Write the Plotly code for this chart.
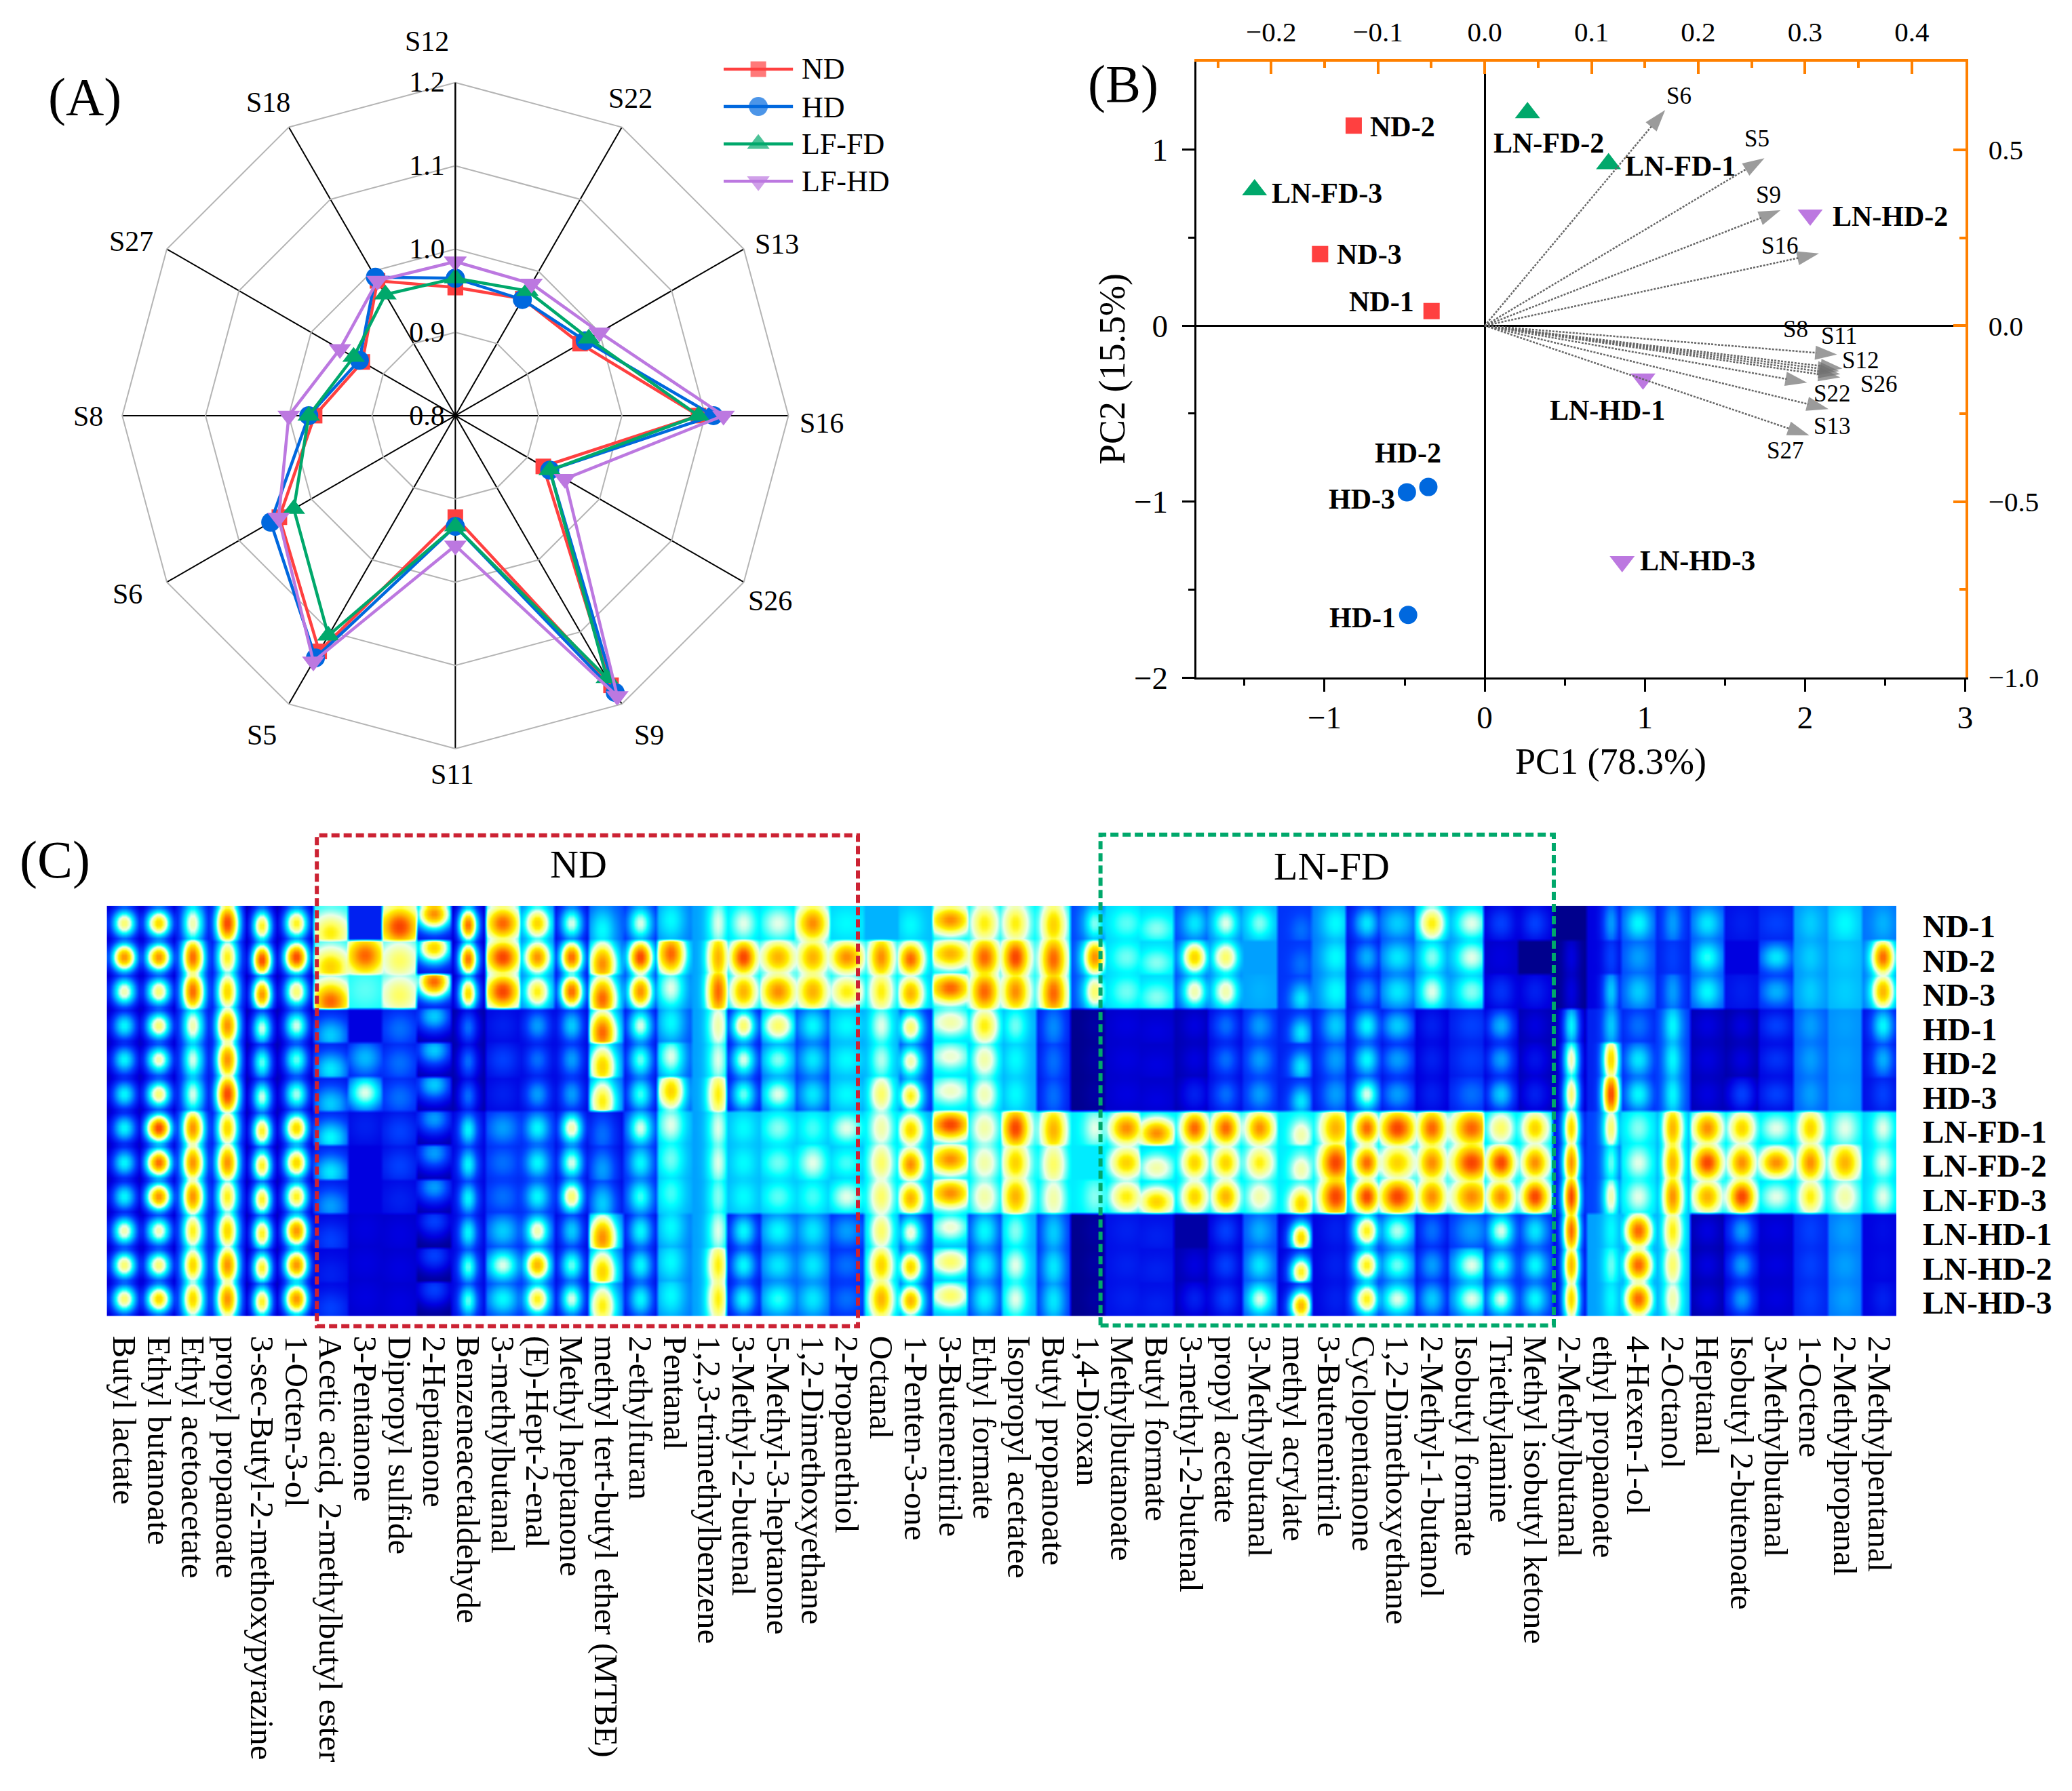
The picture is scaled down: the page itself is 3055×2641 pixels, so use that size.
import math
import plotly.graph_objects as go

FONT = "Liberation Serif"
W, H = 3055, 2641
def px(x): return x / W
def py(y): return 1 - y / H

# ---------- Panel A data ----------
spokes = ["S12","S22","S13","S16","S26","S9","S11","S5","S6","S8","S27","S18"]
radar_ND   = [.954,.962,.973,1.092,.922,1.174,.922,1.127,1.044,.969,.929,.987]
radar_HD   = [.965,.961,.980,1.110,.931,1.184,.933,1.136,1.056,.976,.933,.992]
radar_LFFD = [.965,.973,.985,1.092,.931,1.164,.933,1.105,1.024,.976,.941,.968]
radar_LFHD = [.985,.983,1.000,1.122,.952,1.189,.956,1.141,1.045,1.000,.960,.987]
spoke_label_px = [(632,62),(933,146),(1150,364),(1216,630),(1140,895),(961,1095),
                  (670,1153),(388,1095),(189,885),(131,620),(194,360),(397,152)]
legend_names = ["ND","HD","LF-FD","LF-HD"]
legend_rows_px = [103,160,215,270]

# ---------- Panel B data ----------
score_names = ["ND-1","ND-2","ND-3","HD-1","HD-2","HD-3","LN-FD-1","LN-FD-2","LN-FD-3","LN-HD-1","LN-HD-2","LN-HD-3"]
score_pc1 = [-.332,-.818,-1.028,-.478,-.352,-.486,.773,.267,-1.437,.988,2.032,.858]
score_pc2 = [.083,1.137,.407,-1.644,-.917,-.947,.92,1.21,.772,-.303,.629,-1.341]
score_label_x = [-.644,-.514,-.721,-.761,-.478,-.765,1.223,.401,-.984,.765,2.530,1.328]
score_label_y = [.134,1.131,.404,-1.659,-.724,-.985,.905,1.039,.751,-.481,.623,-1.335]
load_names = ["S6","S5","S9","S16","S8","S11","S12","S26","S22","S13","S27","S18"]
load_x = [.169,.262,.277,.313,.330,.335,.333,.333,.302,.322,.304,.332]
load_y = [.613,.476,.328,.205,-.082,-.122,-.138,-.147,-.162,-.237,-.312,-.129]
load_label_x = [.182,.255,.266,.276,.291,.332,.352,.369,.325,.325,.281]
load_label_y = [.653,.531,.372,.227,-.010,-.030,-.098,-.166,-.193,-.286,-.355]

# ---------- Panel C data ----------
samples = ["ND-1","ND-2","ND-3","HD-1","HD-2","HD-3","LN-FD-1","LN-FD-2","LN-FD-3","LN-HD-1","LN-HD-2","LN-HD-3"]
compounds = ["Butyl lactate","Ethyl butanoate","Ethyl acetoacetate","propyl propanoate","3-sec-Butyl-2-methoxypyrazine",
 "1-Octen-3-ol","Acetic acid, 2-methylbutyl ester","3-Pentanone","Dipropyl sulfide","2-Heptanone","Benzeneacetaldehyde",
 "3-methylbutanal","(E)-Hept-2-enal","Methyl heptanone","methyl tert-butyl ether (MTBE)","2-ethylfuran","Pentanal",
 "1,2,3-trimethylbenzene","3-Methyl-2-butenal","5-Methyl-3-heptanone","1,2-Dimethoxyethane","2-Propanethiol","Octanal",
 "1-Penten-3-one","3-Butenenitrile","Ethyl formate","Isopropyl acetatee","Butyl propanoate","1,4-Dioxan","Methylbutanoate",
 "Butyl formate","3-methyl-2-butenal","propyl acetate","3-Methylbutanal","methyl acrylate","3-Butenenitrile","Cyclopentanone",
 "1,2-Dimethoxyethane","2-Methyl-1-butanol","Isobutyl formate","Triethylamine","Methyl isobutyl ketone","2-Methylbutanal",
 "ethyl propanoate","4-Hexen-1-ol","2-Octanol","Heptanal","Isobutyl 2-butenoate","3-Methylbutanal","1-Octene",
 "2-Methylpropanal","2-Methylpentanal"]
# spot intensity read per compound (one value per sample, top to bottom)
spot_peak = [
 [6,8,5.5,4,4,4,4,4,4,5.5,6,6],[7,8,6,6,5.5,6,9,8.5,8,5.5,6,7],[5.5,8.5,8.5,5.5,5,5,8,8,8,6.5,7,7],
 [9,6.5,7,8,8,9,7,8,6.5,7,8,8],[6.5,9,8,5,4.5,5,6.5,6.5,6.5,6.5,6.5,6.5],[6.5,9,6,5,4.5,4.8,7,7,6.5,8,8,8],
 [6.5,7,8.5,3.5,3.8,3.5,4,3.8,3,2,1.5,2],[1.5,8.5,4.4,1,3.3,5,1.5,1,1,1,1,1],[9,6,6,2.5,2.5,2.5,2,2,1.5,1,1,1],
 [8,7,8.5,3.5,3.5,3.5,3,3,3,2,2,2],[8.5,8.5,7,2.5,2.5,2.5,4,4,4,4,4.5,4.5],[8.5,9,9,1.5,2,1.5,3,2.5,2.5,3.5,5,4],
 [7,8,6.5,3,2.5,3,4,4,4,5.5,7.5,6.5],[5,8.5,8.5,3.5,3,3,5.5,5,6,3.5,4.5,5],[4,8,8.5,8.5,7,6.5,2.5,3,3.5,8,7,6.5],
 [5,9,8,5,4.5,4.3,5,4,4.3,4,4,4],[4,8.5,5,4,5,7,5,4.5,4.3,4,4,4],[5,7.5,8.5,5.5,5,6.5,5,5,4.6,5,6.5,6.5],
 [5,9,7.5,6,5,4.5,4,4,4,4,4,4],[5,7.5,8,6,4.6,5,4.6,4.5,4.4,4,3.8,4.2],[8,7.5,7.5,4,3.8,3.8,4.3,5,4.3,3.8,3.8,3.8],
 [4,8,6.5,4,4,4,5,4.3,5,3,2.5,2.5],[3.2,8,6.5,5,4.8,6,5.5,6,6,6,7,7.5],[4,8.5,7.5,6,5.5,6.5,7,8,7.5,5.2,7,7.5],
 [8,7.5,8.5,5.5,5.2,5.3,9,8,8,5.2,6,6],[6.5,8.5,8.5,6.5,5.5,5.4,5.5,5.5,5.5,4,4,4],[6.5,9,8,4.5,4,4,9,7,7.5,4.6,5,5],
 [7,8.5,8.5,2.8,2.5,2.5,7.5,6,5.5,3.5,3.8,3.8],[4.6,8,6,.5,.5,.5,5,3.8,4.6,.5,.5,.5],[4.4,4.5,4.5,1,1,1,8,7,6.5,1.5,1.5,1.5],
 [4.6,4.6,4.6,1,1,1,8,5.5,7,1.5,1.5,1.5],[3.8,7,5.5,1,1,1.5,8.5,7,7,.5,1,1.5],[5,6,5.5,2.5,2.5,2.5,8.5,7,7.5,2,2,2],
 [4.6,3,3.2,3,3,3,8,6.5,5.5,3.2,3.8,5],[2.5,2.5,3.8,3.8,3.8,3.8,5.5,5.5,7,7,6.5,7.5],[4,4,4,3.5,3,3,7.5,9,9,1.5,1.5,1.5],
 [3.8,3.2,3,4,4,5,8.5,8.5,9,6.5,6.5,6.5],[3.5,3.8,3.8,3.5,3,3,9,7,9,4.8,4.5,5],[6.5,4.6,5,1.5,1.5,1.5,8.5,8,8,2.5,3,3.5],
 [5,5,4.6,2,2,2.5,8.5,9,8,3,5,5],[2,1,1.8,3.2,3,3.5,6,9,8,5,4.4,5],[2,.3,1.5,1,1.3,1.5,7,8,9,3.8,4,4],
 [.3,1,1,4,5.5,6,7,8,9,8.5,7.5,7],[3,2,3.5,3.5,7,9,6,4.5,5.5,4,4.5,4],[4,3,3.5,2.5,3.8,4,4.6,5,5,8.5,8.5,8.5],
 [3,2,3,4,4,4,7.5,7.5,8,6.5,6,5.5],[3.8,4.2,4,1,1,1,8,9,7.5,1,1,1],[1.5,1,1.5,1,1,2,7,8,9,3,3,3],
 [2,3.8,3.2,2,1.8,2,5,8,5,1,1,1],[3.5,3.5,3.5,3,3,3,7,8,6.5,2,2,2],[4,3.5,3.5,3,3,3,5,7.5,5.5,3,3,3],
 [3.2,8.5,7.5,4,3.2,2,5,5,5,1.2,1.2,1.5],
]
# cell background read per compound for the ND, HD, LN-FD and LN-HD sample groups
bg_ND = [.5,.5,1,.7,.5,.5,4,4,4,1,.6,3.5,2.5,1,2,1.5,2.5,3,3.5,3.5,3.5,3.5,3.5,3.3,3.5,3.5,3.8,3.5,2,3.5,3.5,2,2.5,3,1.8,2.5,1.2,1.8,2.5,2.5,.8,.8,.3,1,2,1.5,2,1.2,1.5,2.8,3.2,2.5]
bg_HD = [.5,.5,1,.7,.5,.5,1.2,1,1.2,.5,.5,1,1,1,2,1,2,3,1,2,1.5,3,3,1.5,3.5,3,3,1.2,.3,.8,.8,.6,1,1.5,1.5,1.2,1.2,.8,.8,1.2,.8,.6,.5,1.5,1.5,1.8,.6,.5,1,2.2,2.8,1.2]
bg_FD = [.5,.5,1,.7,.5,.5,1.2,1,1,.5,1,1.5,1.5,1,1,1.5,3,3,3.2,3.2,3.2,3.2,3.5,3,3.5,3.5,3.8,3.5,3.8,3.5,3.5,3.5,3.5,3.8,3.8,3.5,3,3.5,3.5,3.5,3.5,3.5,1.2,2,3.5,3,3.5,3.5,3.5,3.5,3.7,3.5]
bg_LH = [.5,.5,1,.7,.5,.5,1,.8,.8,.3,1,1.5,1.5,1,2,1,2.5,3,1,2,2,1.5,3,1.5,3,1.5,3,1.5,.3,1.2,1.2,.6,.8,2,1,1,1.2,1.5,1,1.5,1.5,1.5,1,3,2.5,3,.5,.8,.8,1.5,2.5,1]
spot_sx = [.19,.19,.17,.18,.15,.18,.28,.3,.3,.26,.14,.26,.19,.17,.22,.19,.22,.16,.2,.27,.24,.26,.19,.19,.32,.22,.2,.2,.18,.25,.28,.2,.2,.2,.17,.24,.19,.27,.22,.3,.2,.2,.13,.13,.2,.15,.22,.2,.24,.19,.22,.17]
spot_sy = [.22,.22,.34,.36,.26,.25,.28,.3,.3,.24,.26,.26,.24,.26,.38,.28,.35,.45,.27,.27,.3,.25,.35,.26,.22,.33,.32,.4,.3,.25,.22,.26,.26,.25,.24,.33,.26,.28,.3,.3,.26,.26,.42,.42,.27,.4,.26,.26,.22,.3,.3,.28]
spot_dy = [0,0,0,0,.08,0,.28,-.05,.1,-.28,.05,0,0,0,.2,0,-.1,0,0,0,0,0,0,.05,-.1,0,0,.05,0,0,.15,0,0,0,.2,0,0,0,0,0,0,0,0,0,0,0,0,0,0,0,0,0]
spot_dx = [0,0,0,0,0,0,0,0,0,0,0,0,0,0,-.1,0,-.12,.25,0,0,0,0,0,-.15,0,0,-.1,0,.2,.12,0,.1,0,0,.2,.2,.1,0,0,.15,0,0,.05,.2,0,0,0,0,0,0,0,.1]

SPREAD = 1.4
SUB = 10
nr, nc = len(samples), len(compounds)
group_bg = [bg_ND]*3 + [bg_HD]*3 + [bg_FD]*3 + [bg_LH]*3
heat_x = [(i + .5) / SUB for i in range(nc * SUB)]
heat_y = [(j + .5) / SUB for j in range(nr * SUB)]
heat_z = []
for j in range(nr * SUB):
    r = j // SUB
    fy = (j % SUB + .5) / SUB - .5
    row = []
    for i in range(nc * SUB):
        c = i // SUB
        fx = (i % SUB + .5) / SUB - .5
        peak = spot_peak[c][r]
        base = min(group_bg[r][c], peak)
        ex = (fx - spot_dx[c]) / (spot_sx[c] * SPREAD)
        ey = (fy - spot_dy[c]) / (spot_sy[c] * SPREAD)
        row.append(round(base + (peak - base) * math.exp(-.5 * (ex * ex + ey * ey)), 2))
    heat_z.append(row)

ZMAX = 9.5
stops = [(0,"#00006A"),(1,"#0000E0"),(2,"#0040FF"),(3,"#00A0FF"),(4,"#00FFFF"),(5,"#E8FFE8"),
         (6,"#FFFF60"),(6.5,"#FFF000"),(7.5,"#FFB000"),(8.5,"#FF6000"),(9.5,"#F02000")]
jet = [[v / ZMAX, c] for v, c in stops]

RED, BLUE, GREEN, PURPLE = "#FF4040", "#0068DE", "#00A86B", "#BC78E0"
ORANGE = "#FF8000"
fig = go.Figure()

# Panel A
radar_style = [(RED, "square", 23), (BLUE, "circle", 28), (GREEN, "triangle-up", 29), (PURPLE, "triangle-down", 29)]
for name, vals, (col, sym, size) in zip(legend_names, [radar_ND, radar_HD, radar_LFFD, radar_LFHD], radar_style):
    fig.add_trace(go.Scatterpolar(r=vals + vals[:1], theta=spokes + spokes[:1], name=name, mode="lines+markers", showlegend=False,
                                  line=dict(color=col, width=4.5), marker=dict(symbol=sym, size=size, color=col), subplot="polar"))
# Panel A key, drawn on its own small axes
for k, (name, (col, sym, size)) in enumerate(zip(legend_names, radar_style)):
    fig.add_trace(go.Scatter(x=[0, .5, 1], y=[k, k, k], xaxis="x4", yaxis="y4", mode="lines+markers", showlegend=False, name=name,
                             line=dict(color=col, width=4.5), marker=dict(symbol=sym, size=[0, size, 0], color=col, line=dict(width=0))))

# Panel B: loadings
for n, lx, ly in zip(load_names, load_x, load_y):
    fig.add_trace(go.Scatter(x=[0, lx], y=[0, ly], xaxis="x2", yaxis="y2", mode="lines+markers", showlegend=False, name=n,
                             line=dict(color="#666666", width=2.5, dash="3px,2px"),
                             marker=dict(symbol="arrow", angleref="previous", size=[0, 34], color="#707070", line=dict(width=0))))
# Panel B: scores
for idx, col, sym, size in [((0,1,2), RED, "square", 24), ((3,4,5), BLUE, "circle", 27),
                            ((6,7,8), GREEN, "triangle-up", 32), ((9,10,11), PURPLE, "triangle-down", 32)]:
    fig.add_trace(go.Scatter(x=[score_pc1[i] for i in idx], y=[score_pc2[i] for i in idx], mode="markers", showlegend=False,
                             marker=dict(symbol=sym, size=size, color=col, line=dict(width=0)), xaxis="x", yaxis="y"))

# Panel C
fig.add_trace(go.Heatmap(x=heat_x, y=heat_y, z=heat_z, colorscale=jet, zmin=0, zmax=ZMAX, zsmooth="best",
                         showscale=False, xaxis="x3", yaxis="y3", hoverinfo="skip"))

ann = []
def text(x, y, t, size, bold=False, xref="paper", yref="paper", angle=0, xanchor="center"):
    ann.append(dict(x=x, y=y, xref=xref, yref=yref, text=f"<b>{t}</b>" if bold else t, showarrow=False, textangle=angle,
                    font=dict(family=FONT, size=size, color="black"), xanchor=xanchor, yanchor="middle"))
for s, (a, b) in zip(spokes, spoke_label_px):
    text(px(a), py(b), s, 42)
for n, b in zip(legend_names, legend_rows_px):
    text(px(1185), py(b), n, 44, xanchor="left")
for n, a, b in zip(score_names, score_label_x, score_label_y):
    text(a, b, n, 42, True, "x", "y")
for n, a, b in zip(load_names, load_label_x, load_label_y):
    text(a, b, n, 35, False, "x2", "y2")
text(px(125), py(144), "(A)", 78)
text(px(1663), py(125), "(B)", 78)
text(px(81), py(1280), "(C)", 78)
text(px(856), py(1287), "ND", 58)
text(px(1971), py(1290), "LN-FD", 58)
text(px(2384), py(1134), "PC1 (78.3%)", 54)
text(px(1646), py(550), "PC2 (15.5%)", 54, angle=-90)

boxes = [(469,1244,1270,1975,"#CC2233"),(1629,1243,2300,1974,GREEN)]
shapes = [dict(type="rect", xref="paper", yref="paper", x0=px(a), x1=px(c), y0=py(d), y1=py(b),
               line=dict(color=col, width=6, dash="12px,6px"), layer="above") for a,b,c,d,col in boxes]

tf = dict(family=FONT, size=47, color="black")
tf2 = dict(family=FONT, size=41, color="black")
fig.update_layout(
    width=W, height=H, margin=dict(l=0, r=0, t=0, b=0), paper_bgcolor="white", plot_bgcolor="white",
    font=dict(family=FONT, color="black"), annotations=ann, shapes=shapes, showlegend=False,
    polar=dict(domain=dict(x=[px(178), px(1170)], y=[py(1115), py(123)]), gridshape="linear", bgcolor="white",
               radialaxis=dict(range=[.8, 1.2], tickvals=[.8,.9,1.0,1.1,1.2], tickformat=".1f", angle=90, tickangle=90,
                               side="counterclockwise", showline=True, linecolor="black", linewidth=2, gridcolor="#B4B4B4",
                               gridwidth=2, ticks="", tickfont=dict(family=FONT, size=42, color="black")),
               angularaxis=dict(type="category", categoryorder="array", categoryarray=spokes, direction="clockwise", rotation=90,
                                showticklabels=False, ticks="", gridcolor="black", gridwidth=2, showline=True,
                                linecolor="#B4B4B4", linewidth=2)),
    xaxis=dict(domain=[px(1771), px(2909)], range=[-1.8, 3], anchor="y", tickvals=[-1,0,1,2,3], ticktext=["\u22121","0","1","2","3"],
               ticks="outside", ticklen=18, tickwidth=2.5, tickcolor="black", showline=True, linecolor="black", linewidth=2.5, showgrid=False,
               zeroline=True, zerolinecolor="black", zerolinewidth=2.5, tickfont=tf, ticklabelstandoff=-2,
               minor=dict(tickvals=[-1.5,-.5,.5,1.5,2.5], ticks="outside", ticklen=9, tickwidth=2.5, tickcolor="black")),
    yaxis=dict(domain=[py(1009), py(92)], range=[-2, 1.5], anchor="x", tickvals=[-2,-1,0,1], ticktext=["\u22122","\u22121","0","1"],
               ticks="outside", ticklen=18, tickwidth=2.5, tickcolor="black", showline=True, linecolor="black", linewidth=2.5, showgrid=False,
               zeroline=True, zerolinecolor="black", zerolinewidth=2.5, tickfont=tf, ticklabelstandoff=12,
               minor=dict(tickvals=[-1.5,-.5,.5], ticks="outside", ticklen=9, tickwidth=2.5, tickcolor="black")),
    xaxis2=dict(range=[-.27, .45], overlaying="x", side="top", anchor="y", tickvals=[-.2,-.1,0,.1,.2,.3,.4],
                ticktext=["\u22120.2","\u22120.1","0.0","0.1","0.2","0.3","0.4"], ticks="inside", ticklen=18, tickwidth=4, tickcolor=ORANGE,
                showline=True, linecolor=ORANGE, linewidth=4, showgrid=False, zeroline=False, tickfont=tf2, ticklabelstandoff=10,
                minor=dict(tickvals=[-.25,-.15,-.05,.05,.15,.25,.35,.45], ticks="inside", ticklen=9, tickwidth=4, tickcolor=ORANGE)),
    yaxis2=dict(range=[-1, .75], overlaying="y", side="right", anchor="x", tickvals=[-1,-.5,0,.5],
                ticktext=["\u22121.0","\u22120.5","0.0","0.5"], ticks="inside", ticklen=18, tickwidth=4, tickcolor=ORANGE,
                showline=True, linecolor=ORANGE, linewidth=4, showgrid=False, zeroline=False, tickfont=tf2, ticklabelstandoff=22,
                minor=dict(tickvals=[-.75,-.25,.25], ticks="inside", ticklen=9, tickwidth=4, tickcolor=ORANGE)),
    xaxis3=dict(domain=[px(158), px(2807)], range=[0, nc], anchor="y3", tickvals=[i + .5 for i in range(nc)], ticktext=compounds,
                tickangle=90, ticks="", showgrid=False, zeroline=False, showline=False, ticklabelstandoff=28,
                tickfont=dict(family=FONT, size=49, color="black"), automargin=False),
    yaxis3=dict(domain=[py(1960), py(1349)], range=[nr, 0], anchor="x3", side="right", tickvals=[i + .6 for i in range(nr)],
                ticktext=[f"<b>{s}</b>" for s in samples], ticks="", showgrid=False, zeroline=False, showline=False, ticklabelstandoff=38,
                tickfont=dict(family=FONT, size=47, color="black"), automargin=False),
    xaxis4=dict(domain=[px(1071), px(1174)], range=[0, 1], anchor="y4", visible=False),
    yaxis4=dict(domain=[py(285), py(88)], range=[3.27, -.27], anchor="x4", visible=False),
)

fig.write_html("out.html", post_script="document.body.style.margin='0';", config=dict(displayModeBar=False))
